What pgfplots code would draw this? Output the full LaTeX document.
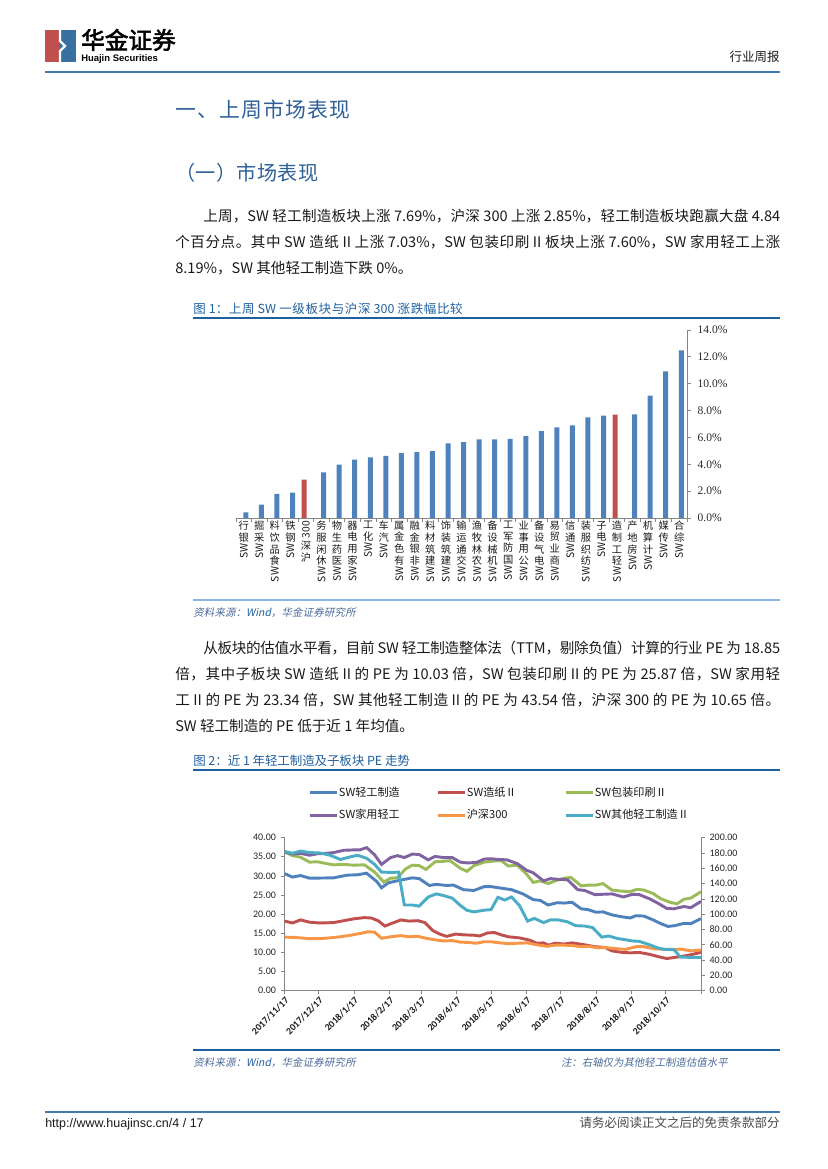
\documentclass[border=0pt]{standalone}
\usepackage{fontspec}
\setmainfont{Noto Sans CJK SC}
\newfontfamily\ser{Liberation Serif}
\newfontfamily\carl{Carlito}
\newfontfamily\ari{Liberation Sans}
\newfontfamily\cjkb[FakeBold=2.5]{Noto Sans CJK SC}
\newfontfamily\cjki[FakeSlant=0.2]{Noto Sans CJK SC}
\usepackage{graphicx}
\usepackage{pgfplots}
\pgfplotsset{compat=1.18}

% stretchable glue between CJK characters (letter spacing for justified lines)
\XeTeXinterchartokenstate=1
\newXeTeXintercharclass\cjkcls
\makeatletter
\count@="3000 \loop\ifnum\count@<"3040 \XeTeXcharclass\count@=\cjkcls \advance\count@ by 1 \repeat
\count@="4E00 \loop\ifnum\count@<"A000 \XeTeXcharclass\count@=\cjkcls \advance\count@ by 1 \repeat
\count@="FF00 \loop\ifnum\count@<"FF60 \XeTeXcharclass\count@=\cjkcls \advance\count@ by 1 \repeat
\makeatother
\XeTeXinterchartoks\cjkcls\cjkcls={\hskip0pt plus 2pt minus 0.7pt\relax}

\definecolor{hdrblue}{HTML}{3E7CB1}
\definecolor{ttlblue}{HTML}{2E5F96}
\definecolor{capblue}{HTML}{1F5F9E}
\definecolor{srcline}{HTML}{8DB3E2}
\definecolor{srctxt}{HTML}{4A6A9A}
\definecolor{bodytxt}{HTML}{1A1A1A}
\definecolor{axgray}{HTML}{868686}
\definecolor{barblue}{HTML}{4F81BD}
\definecolor{barred}{HTML}{C0504D}
\definecolor{sA}{HTML}{4F81BD}
\definecolor{sB}{HTML}{C0504D}
\definecolor{sC}{HTML}{9BBB59}
\definecolor{sD}{HTML}{8064A2}
\definecolor{sE}{HTML}{F79646}
\definecolor{sF}{HTML}{4BACC6}

\newcommand\rsw{\rotatebox{90}{SW}}
% one justified text line: x, baseline y, width, text
\newcommand\jl[4]{\node[anchor=base west,inner sep=0pt,text=bodytxt] at (#1,#2) {\makebox[#3][s]{#4}};}
\newcommand\nl[3]{\node[anchor=base west,inner sep=0pt,text=bodytxt] at (#1,#2) {#3};}

\begin{document}
\fontsize{10.5}{12}\selectfont
\begin{tikzpicture}[x=0.72pt,y=-0.72pt]
\useasboundingbox (0,0) rectangle (827,1169);

% header
\fill[barred] (45,30) rectangle (60,62);
\fill[hdrblue!90!black] (60,30) rectangle (76,62);
\draw[white,line width=1.6pt] (60,29)--(60,41)--(65,46)--(60,51)--(60,63);
\node[anchor=base west,inner sep=0pt] at (81,49) {\cjkb\fontsize{17}{17}\selectfont 华金证券};
\node[anchor=base west,inner sep=0pt] at (81,61) {\ari\bfseries\fontsize{6.8}{7}\selectfont Huajin Securities};
\node[anchor=base east,inner sep=0pt,text=bodytxt] at (780,61) {\fontsize{9}{9}\selectfont 行业周报};
\draw[hdrblue,line width=1.5pt] (45,72)--(780,72);

% section titles
\node[anchor=base west,inner sep=0pt,text=ttlblue] at (175,117) {\fontsize{15}{15}\selectfont\makebox[126pt][s]{一、上周市场表现}};
\node[anchor=base west,inner sep=0pt,text=ttlblue] at (175,180) {\fontsize{14.5}{15}\selectfont\makebox[103pt][s]{（一）市场表现}};

% paragraph 1
\jl{203}{221}{415.4pt}{上周，SW 轻工制造板块上涨 7.69\%，沪深 300 上涨 2.85\%，轻工制造板块跑赢大盘 4.84}
\jl{175}{247}{435.6pt}{个百分点。其中 SW 造纸 II 上涨 7.03\%，SW 包装印刷 II 板块上涨 7.60\%，SW 家用轻工上涨}
\nl{175}{273}{8.19\%，SW 其他轻工制造下跌 0\%。}

% figure 1 caption
\node[anchor=base west,inner sep=0pt,text=capblue] at (193,313) {\fontsize{9}{9}\selectfont\makebox[194pt][s]{图 1：上周 SW 一级板块与沪深 300 涨跌幅比较}};
\draw[capblue,line width=1.1pt] (193,318)--(780,318);

\begin{axis}[
  at={(169.92pt,-372.96pt)}, anchor=south west, scale only axis,
  width=324.7pt, height=135.4pt,
  xmin=-0.5, xmax=28.5, ymin=0, ymax=14,
  axis y line*=right, axis x line*=bottom,
  axis line style={draw=axgray,line width=0.6pt},
  tick style={draw=axgray,line width=0.6pt},
  tick align=outside, major tick length=3pt,
  ytick={0,2,...,14},
  yticklabel={\pgfmathprintnumber[fixed,fixed zerofill,precision=1,assume math mode=true]{\tick}\%},
  yticklabel style={font=\ser\fontsize{8.3}{8}\selectfont,text=black!85,xshift=1pt},
  xtick={-0.5,0.5,...,28.5}, xticklabels={},
  extra x ticks={0,...,28},
  extra x tick style={major tick length=0pt},
  extra x tick labels={
    {行\\银\\\rsw},{掘\\采\\\rsw},{料\\饮\\品\\食\\\rsw},{铁\\钢\\\rsw},
    {\rotatebox{90}{300}\\深\\沪},{务\\服\\闲\\休\\\rsw},{物\\生\\药\\医\\\rsw},
    {器\\电\\用\\家\\\rsw},{工\\化\\\rsw},{车\\汽\\\rsw},{属\\金\\色\\有\\\rsw},
    {融\\金\\银\\非\\\rsw},{料\\材\\筑\\建\\\rsw},{饰\\装\\筑\\建\\\rsw},
    {输\\运\\通\\交\\\rsw},{渔\\牧\\林\\农\\\rsw},{备\\设\\械\\机\\\rsw},
    {工\\军\\防\\国\\\rsw},{业\\事\\用\\公\\\rsw},{备\\设\\气\\电\\\rsw},
    {易\\贸\\业\\商\\\rsw},{信\\通\\\rsw},{装\\服\\织\\纺\\\rsw},{子\\电\\\rsw},
    {造\\制\\工\\轻\\\rsw},{产\\地\\房\\\rsw},{机\\算\\计\\\rsw},{媒\\传\\\rsw},{合\\综\\\rsw}},
  xticklabel style={font=\fontsize{7.4}{8.4}\selectfont,align=center,anchor=north,inner sep=0pt,yshift=-2pt,text=bodytxt},
]
\addplot[ybar,fill=barblue,draw=none,bar width=3.6pt,bar shift=1.5pt] coordinates {
  (0,0.42) (1,1.00) (2,1.79) (3,1.89) (5,3.39) (6,3.98) (7,4.35) (8,4.51) (9,4.63)
  (10,4.83) (11,4.91) (12,4.98) (13,5.55) (14,5.65) (15,5.85) (16,5.85) (17,5.90)
  (18,6.10) (19,6.47) (20,6.75) (21,6.90) (22,7.50) (23,7.62) (25,7.72) (26,9.12)
  (27,10.91) (28,12.48)};
\addplot[ybar,fill=barred,draw=none,bar width=3.6pt,bar shift=-1.4pt] coordinates {
  (4,2.85) (24,7.69)};
\end{axis}

\draw[srcline,line width=1.5pt] (193,600)--(780,600);
\node[anchor=base west,inner sep=0pt,text=srctxt] at (193,616) {\cjki\fontsize{7.5}{8}\selectfont\makebox[117pt][s]{资料来源：{\color{capblue}Wind}，华金证券研究所}};

% paragraph 2
\jl{203}{653}{415.4pt}{从板块的估值水平看，目前 SW 轻工制造整体法（TTM，剔除负值）计算的行业 PE 为 18.85}
\jl{175}{679}{435.6pt}{倍，其中子板块 SW 造纸 II 的 PE 为 10.03 倍，SW 包装印刷 II 的 PE 为 25.87 倍，SW 家用轻}
\jl{175}{705}{435.6pt}{工 II 的 PE 为 23.34 倍，SW 其他轻工制造 II 的 PE 为 43.54 倍，沪深 300 的 PE 为 10.65 倍。}
\nl{175}{731}{SW 轻工制造的 PE 低于近 1 年均值。}

% figure 2 caption
\node[anchor=base west,inner sep=0pt,text=capblue] at (193,765) {\fontsize{9}{9}\selectfont\makebox[156pt][s]{图 2：近 1 年轻工制造及子板块 PE 走势}};
\draw[capblue,line width=1.1pt] (193,770)--(780,770);

\begin{axis}[
  at={(204.84pt,-713.3pt)}, anchor=south west, scale only axis,
  width=299.9pt, height=110.2pt,
  xmin=0, xmax=365, ymin=0, ymax=40,
  axis x line*=bottom, axis y line*=left,
  axis line style={draw=axgray,line width=0.5pt},
  tick style={draw=axgray,line width=0.5pt},
  tick align=outside, major tick length=2.5pt,
  ytick={0,5,...,40},
  yticklabel style={font=\carl\fontsize{7.2}{7}\selectfont,text=black!85,
    /pgf/number format/fixed,/pgf/number format/fixed zerofill,
    /pgf/number format/precision=2,/pgf/number format/assume math mode=true},
  xtick={0,30,61,92,120,151,181,212,242,273,304,334,365},
  xticklabels={2017/11/17,2017/12/17,2018/1/17,2018/2/17,2018/3/17,2018/4/17,
    2018/5/17,2018/6/17,2018/7/17,2018/8/17,2018/9/17,2018/10/17,{}},
  xticklabel style={rotate=45,anchor=north east,font=\carl\bfseries\fontsize{7}{7}\selectfont,inner sep=1pt,text=black!90},
  legend columns=3,
  legend style={at={(0.0564,1.338)},anchor=north west,draw=none,fill=none,
    inner sep=0pt,row sep=7pt,font=\fontsize{8}{9}\selectfont,nodes={inner sep=0.5pt,text=bodytxt}},
  legend image code/.code={\draw[#1] (0pt,0pt)--(19.5pt,0pt);},
  legend cell align=left,
  /tikz/every even column/.append style={column sep=0pt},
]
\addplot[sA,line width=2.1pt] coordinates {
 (0,30.6) (7,29.7) (14,30.1) (22,29.4) (43,29.5) (55,30.2) (64,30.3) (72,30.7) (81,28.5)
 (85,26.9) (91,28.2) (100,28.8) (112,29.5) (118,29.3) (127,27.5) (133,27.8) (142,27.5)
 (148,27.6) (157,26.4) (166,26.2) (175,27.2) (181,27.2) (190,26.8) (199,26.4) (209,25.3)
 (218,23.8) (224,23.6) (231,22.4) (239,23.0) (245,22.9) (252,23.1) (260,21.4) (266,21.2)
 (273,20.5) (279,20.6) (287,19.8) (296,19.3) (303,19.0) (308,19.6) (315,19.5) (323,18.5)
 (330,17.5) (336,16.8) (342,17.0) (350,17.6) (356,17.5) (365,18.85)};
\addlegendentry{\makebox[69.5pt][l]{SW轻工制造}}
\addplot[sB,line width=2.1pt] coordinates {
 (0,18.2) (7,17.7) (14,18.5) (22,17.9) (31,17.7) (43,17.8) (52,18.3) (61,18.8) (70,19.1)
 (76,19.0) (82,18.3) (88,16.9) (94,17.6) (102,18.5) (109,18.2) (117,18.3) (123,17.8)
 (130,15.7) (136,14.8) (142,14.2) (150,14.8) (157,14.6) (166,14.5) (171,14.3) (178,15.1)
 (184,15.2) (190,14.6) (196,14.1) (206,13.8) (215,13.2) (221,12.4) (227,12.5) (231,11.9)
 (237,12.4) (245,12.2) (252,12.5) (263,12.0) (272,11.5) (281,11.3) (287,10.4) (296,10.0)
 (303,9.9) (311,10.0) (320,9.5) (329,8.8) (335,8.4) (344,8.8) (353,9.2) (359,9.6) (365,10.03)};
\addlegendentry{\makebox[69.5pt][l]{SW造纸Ⅱ}}
\addplot[sC,line width=2.1pt] coordinates {
 (0,36.3) (7,35.3) (14,34.9) (22,33.6) (29,33.7) (37,33.2) (43,32.9) (52,33.0) (61,32.8)
 (70,32.9) (79,31.0) (87,28.4) (93,29.4) (99,29.5) (106,31.8) (112,32.8) (118,32.7)
 (124,31.7) (132,33.7) (139,33.8) (145,34.0) (154,32.0) (160,31.2) (166,32.7) (175,33.6)
 (184,33.9) (190,34.0) (196,32.6) (204,32.8) (212,30.5) (218,28.3) (224,28.7) (231,28.0)
 (237,28.7) (245,29.4) (251,29.6) (260,27.4) (267,27.6) (273,27.6) (279,28.0) (287,26.3)
 (296,26.0) (303,25.9) (309,26.5) (315,26.3) (323,25.4) (330,24.0) (338,23.1) (344,22.7)
 (350,23.9) (356,24.2) (365,25.87)};
\addlegendentry{SW包装印刷Ⅱ}
\addplot[sD,line width=2.1pt] coordinates {
 (0,36.3) (7,35.7) (14,35.9) (22,35.4) (29,35.8) (37,35.9) (43,36.1) (52,36.7) (61,36.8)
 (66,36.8) (72,37.4) (79,35.5) (85,33.0) (93,34.8) (99,35.3) (105,34.8) (112,35.7)
 (118,35.6) (126,34.2) (132,35.1) (139,34.8) (147,34.8) (154,33.6) (160,33.4) (168,33.5)
 (175,34.4) (181,34.5) (187,34.3) (195,34.2) (204,33.2) (212,31.5) (218,30.8) (227,28.7)
 (233,29.3) (240,29.1) (248,29.0) (257,26.4) (263,26.2) (272,25.1) (279,25.2) (287,25.3)
 (297,24.5) (305,25.2) (311,25.1) (320,24.0) (327,22.9) (335,21.5) (341,21.4) (350,22.0)
 (356,21.7) (365,23.34)};
\addlegendentry{\makebox[69.5pt][l]{SW家用轻工}}
\addplot[sE,line width=2.1pt] coordinates {
 (0,14.0) (10,13.9) (22,13.6) (31,13.6) (43,13.9) (49,14.1) (58,14.5) (67,15.0) (73,15.4)
 (79,15.3) (85,13.7) (93,14.1) (102,14.4) (109,14.1) (117,14.2) (124,13.7) (132,13.3)
 (139,13.0) (147,13.1) (154,12.7) (162,12.6) (168,12.4) (175,12.8) (181,12.8) (189,12.5)
 (196,12.3) (204,12.4) (213,12.5) (221,12.0) (230,11.6) (237,11.9) (245,11.9) (252,11.8)
 (260,11.5) (266,11.6) (275,11.2) (281,11.3) (290,11.0) (299,10.8) (308,11.5) (315,11.5)
 (323,11.0) (332,10.8) (341,10.7) (347,10.9) (356,10.4) (365,10.65)};
\addlegendentry{\makebox[69.5pt][l]{沪深300}}
\addlegendimage{sF,line width=2.1pt}
\addlegendentry{SW其他轻工制造Ⅱ}
\end{axis}

\begin{axis}[
  at={(204.84pt,-713.3pt)}, anchor=south west, scale only axis,
  width=299.9pt, height=110.2pt,
  xmin=0, xmax=365, ymin=0, ymax=200,
  axis x line=none, axis y line*=right,
  axis line style={draw=axgray,line width=0.5pt},
  tick style={draw=axgray,line width=0.5pt},
  tick align=outside, major tick length=2.5pt,
  ytick={0,20,...,200},
  yticklabel style={font=\carl\fontsize{7.2}{7}\selectfont,text=black!85,
    /pgf/number format/fixed,/pgf/number format/fixed zerofill,
    /pgf/number format/precision=2,/pgf/number format/assume math mode=true},
]
\addplot[sF,line width=2.1pt] coordinates {
 (0,182) (7,179.5) (14,182.5) (22,180.5) (31,180) (40,177) (49,171.5) (58,175) (64,177)
 (72,173) (79,165) (85,155) (94,154.5) (100,155) (105,112) (112,112) (118,110.5)
 (126,122.5) (133,126.5) (139,124.5) (147,121) (154,111.5) (160,105) (166,103) (174,105)
 (181,106) (187,122) (193,118.5) (199,122.5) (206,111) (213,91) (219,94.5) (227,89)
 (233,92.5) (240,92.5) (248,90) (255,85) (263,84.5) (270,82.5) (278,70) (284,71.5)
 (291,68.5) (299,66.5) (305,65) (311,64.5) (320,60) (327,56) (333,54) (341,54) (347,44)
 (356,43.5) (365,43.54)};
\end{axis}

\draw[capblue,line width=1.1pt] (193,1050)--(780,1050);
\node[anchor=base west,inner sep=0pt,text=srctxt] at (193,1066) {\cjki\fontsize{7.5}{8}\selectfont\makebox[117pt][s]{资料来源：{\color{capblue}Wind}，华金证券研究所}};
\node[anchor=base east,inner sep=0pt,text=srctxt] at (728,1066) {\cjki\fontsize{7.5}{8}\selectfont 注：右轴仅为其他轻工制造估值水平};

% footer
\draw[hdrblue,line width=1.5pt] (45,1112)--(780,1112);
\node[anchor=base west,inner sep=0pt,text=bodytxt] at (45,1127) {\ari\fontsize{9}{9}\selectfont http://www.huajinsc.cn/4 / 17};
\node[anchor=base east,inner sep=0pt,text=bodytxt!80] at (780,1127) {\fontsize{9}{9}\selectfont 请务必阅读正文之后的免责条款部分};
\end{tikzpicture}
\end{document}
